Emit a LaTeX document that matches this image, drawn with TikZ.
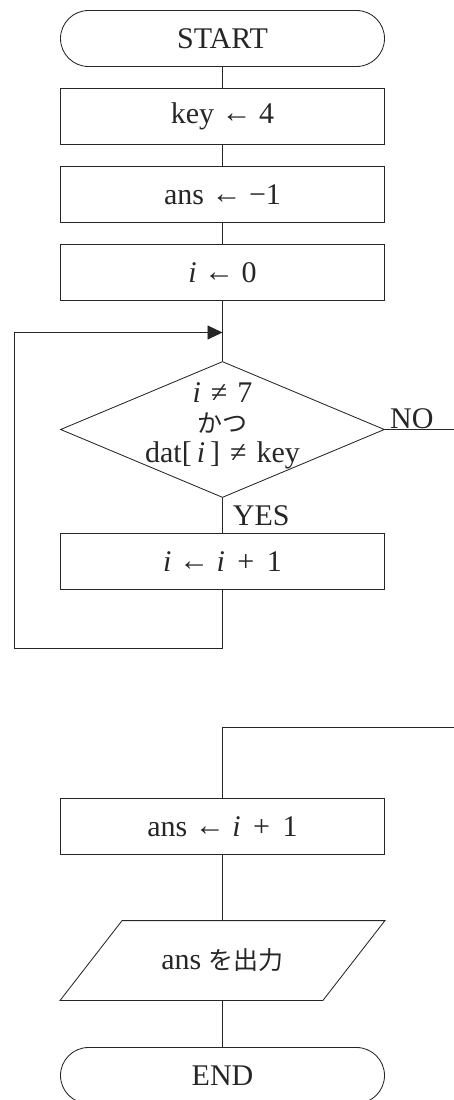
\documentclass[tikz,border=0pt]{standalone}
\usepackage{fontspec}
\setmainfont{Liberation Serif}
\newfontfamily\jpfont{Noto Sans CJK JP}
\usetikzlibrary{shapes.geometric,shapes.misc,arrows.meta}
\newcommand\larr{\raisebox{1pt}{\fontsize{30}{30}\selectfont ←}}
\newcommand\jp[1]{{\jpfont\fontsize{25}{30}\selectfont #1}}
\newcommand\sps{\hspace{10pt}}
\begin{document}
\begin{tikzpicture}[x=1pt,y=-1pt,
  line width=0.85pt, draw=black!85,
  every node/.style={font=\fontsize{30}{30}\selectfont, text=black!85},
  term/.style={draw, rounded rectangle, minimum width=324pt, minimum height=56pt, inner sep=0pt},
  proc/.style={draw, rectangle, minimum width=324pt, minimum height=56pt, inner sep=0pt},
  dec/.style={draw, diamond, minimum width=324pt, minimum height=136pt, inner sep=0pt},
  lbl/.style={inner sep=0pt},
  arr/.style={-{Triangle[length=15pt,width=14pt]}}]
\useasboundingbox (0,0) rectangle (454,1100);
\clip (0,0) rectangle (454,1100);

\node[term] (start) at (222.5,38.5) {START};
\node[proc] (key) at (222.5,116.5) {key \larr{} 4};
\node[proc] (ans) at (222.5,194.5) {ans \larr{} −1};
\node[proc] (izero) at (222.5,272.5) {\textit{i} \larr{} 0};
\coordinate (merge) at (222.5,332.5);
\node[dec] (cond) at (222.5,429.5) {};
\node[lbl, align=center, font=\fontsize{30}{30}\selectfont] (condtext) at (222.5,426)
  {\textit{i}\sps≠\sps7\\ \jp{かつ}\\ dat[\,\textit{i}\,]\sps≠\sps key};
\node[proc] (inc) at (222.5,561.5) {\textit{i} \larr{} \textit{i} \,+\, 1};
\coordinate (loopa) at (222.5,648.5);
\coordinate (loopb) at (14.5,648.5);
\coordinate (loopc) at (14.5,332.5);
\coordinate (noend) at (454,429.5);
\coordinate (reta) at (454,727.5);
\coordinate (retb) at (222.5,727.5);
\node[proc] (ans2) at (222.5,826.5) {ans \larr{} \textit{i} \,+\, 1};
\node[minimum width=262pt, minimum height=79pt, inner sep=0pt] (outp) at (222.5,960.5) {ans \jp{を出力}};
\node[term] (end) at (222.5,1075.5) {END};

\draw ([xshift=31pt]outp.north west) -- ([xshift=31pt]outp.north east)
  -- ([xshift=-31pt]outp.south east) -- ([xshift=-31pt]outp.south west) -- cycle;

\draw (start) -- (key);
\draw (key) -- (ans);
\draw (ans) -- (izero);
\draw (izero.south) -- (cond.north);
\draw (cond.south) -- node[lbl, anchor=west, xshift=10pt] {YES} (inc.north);
\draw (cond.east) -- node[lbl, anchor=south, pos=0.39] {NO} (noend);
\draw[arr] (inc.south) -- (loopa) -- (loopb) -- (loopc) -- (merge);
\draw (reta) -- (retb) -- (ans2.north);
\draw (ans2.south) -- (outp.north);
\draw (outp.south) -- (end.north);
\end{tikzpicture}
\end{document}
